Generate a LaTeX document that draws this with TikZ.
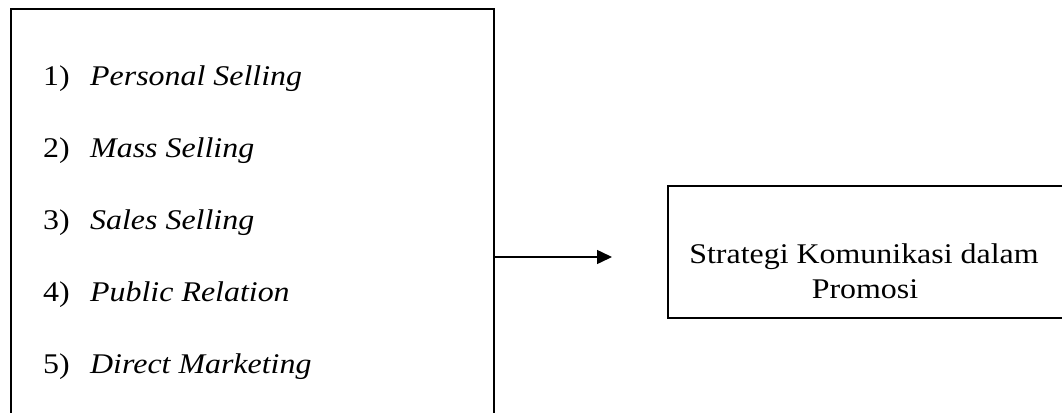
\documentclass[tikz,border=0pt]{standalone}
\usepackage{fontspec}
\setmainfont{Liberation Serif}[FakeStretch=1.12]
\usetikzlibrary{arrows.meta}
\begin{document}
\begin{tikzpicture}[x=1pt,y=-1pt,
  box/.style={draw=black,rectangle,inner sep=0pt},
  item/.style={anchor=base west,inner sep=0pt,font=\fontsize{28.5}{34}\selectfont},
  lbl/.style={anchor=base,inner sep=0pt,font=\fontsize{28.5}{34}\selectfont},
  conn/.style={line width=1.5pt,-{Triangle[length=15pt,width=14pt]}}]
\useasboundingbox[fill=white] (0,0) rectangle (1062,412);
\node[box,line width=2pt,minimum width=483pt,minimum height=421pt] (left) at (252.5,219.5) {};
\node[box,line width=1.3pt,minimum width=412pt,minimum height=132pt] (right) at (874,252) {};
\node[item] (i1) at (43,85)  {\makebox[47pt][l]{1)}\textit{Personal Selling}};
\node[item] (i2) at (43,157) {\makebox[47pt][l]{2)}\textit{Mass Selling}};
\node[item] (i3) at (43,229) {\makebox[47pt][l]{3)}\textit{Sales Selling}};
\node[item] (i4) at (43,301) {\makebox[47pt][l]{4)}\textit{Public Relation}};
\node[item] (i5) at (43,373) {\makebox[47pt][l]{5)}\textit{Direct Marketing}};
\node[lbl] (r1) at (864,263) {Strategi Komunikasi dalam};
\node[lbl] (r2) at (865,298) {Promosi};
\coordinate (tip) at (612,257);
\draw[conn] (left.east |- tip) -- (tip);
\end{tikzpicture}
\end{document}
